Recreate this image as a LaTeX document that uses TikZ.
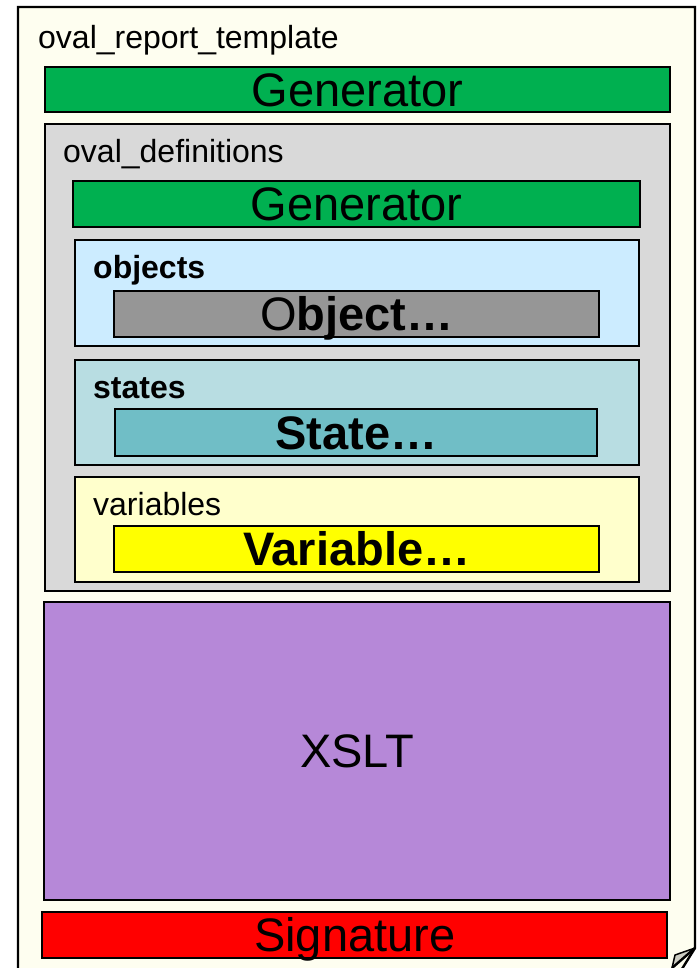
\documentclass[tikz,border=0pt]{standalone}
\usepackage{fontspec}
\setmainfont{Liberation Sans}
\definecolor{pagebg}{RGB}{254,254,240}
\definecolor{foldgray}{RGB}{205,205,195}
\definecolor{gengreen}{RGB}{0,176,80}
\definecolor{defgray}{RGB}{217,217,217}
\definecolor{objbg}{RGB}{204,236,255}
\definecolor{objgray}{RGB}{150,150,150}
\definecolor{statebg}{RGB}{184,221,226}
\definecolor{statebox}{RGB}{112,190,198}
\definecolor{varbg}{RGB}{255,255,204}
\definecolor{varbox}{RGB}{255,255,0}
\definecolor{xsltpurple}{RGB}{182,136,216}
\definecolor{sigred}{RGB}{255,0,0}
\begin{document}
\begin{tikzpicture}[x=1pt,y=-1pt,
  box/.style={draw=black, line width=2.4pt, rectangle, inner sep=0pt, anchor=north west},
  big/.style={font=\fontsize{47}{51}\selectfont, text height=34pt, text depth=1pt},
  lbl/.style={font=\fontsize{32}{36}\selectfont, anchor=base west, inner sep=0pt},
  pageline/.style={draw=black, line width=2.4pt, line join=miter},
]
\useasboundingbox (0,0) rectangle (698,968);
% page
\path[pageline, fill=pagebg] (18,985) -- (18,7) -- (695,7) -- (695,948) -- (672,985);
\coordinate (foldA) at (695,948);
\coordinate (foldB) at (675,955);
\coordinate (foldC) at (672,968);
\draw[draw=black, line width=1.5pt, fill=foldgray, line join=round] (foldA) -- (foldB) -- (foldC) -- cycle;
\draw[pageline] (foldA) -- (foldC);

\node[lbl] (reportlbl) at (38,49) {oval\_report\_template};
\node[box, fill=gengreen, minimum width=625pt, minimum height=45pt, big] (gen1) at (44,66) {Generator};

\node[box, fill=defgray, minimum width=625pt, minimum height=467pt] (defs) at (44,123) {};
\node[lbl] (defslbl) at (63,163) {oval\_definitions};
\node[box, fill=gengreen, minimum width=567pt, minimum height=46pt, big] (gen2) at (72,180) {Generator};

\node[box, fill=objbg, minimum width=564pt, minimum height=106pt] (objs) at (74,239) {};
\node[lbl, font=\fontsize{32}{36}\selectfont\bfseries] (objslbl) at (93,278) {objects};
\node[box, fill=objgray, minimum width=485pt, minimum height=46pt, big] (objbox) at (113,290) {O\textbf{bject…}};

\node[box, fill=statebg, minimum width=564pt, minimum height=105pt] (states) at (74,359) {};
\node[lbl, font=\fontsize{32}{36}\selectfont\bfseries] (stateslbl) at (93,398) {states};
\node[box, fill=statebox, minimum width=482pt, minimum height=47pt, big] (statebx) at (114,408) {\textbf{State…}};

\node[box, fill=varbg, minimum width=564pt, minimum height=105pt] (vars) at (74,476) {};
\node[lbl] (varslbl) at (93,515) {variables};
\node[box, fill=varbox, minimum width=485pt, minimum height=46pt, big] (varbx) at (113,525) {\textbf{Variable…}};

\node[box, fill=xsltpurple, minimum width=626pt, minimum height=298pt, big] (xslt) at (43,601) {XSLT};
\node[box, fill=sigred, minimum width=625pt, minimum height=46pt, big] (sig) at (41,911) {Signature};
\end{tikzpicture}
\end{document}
